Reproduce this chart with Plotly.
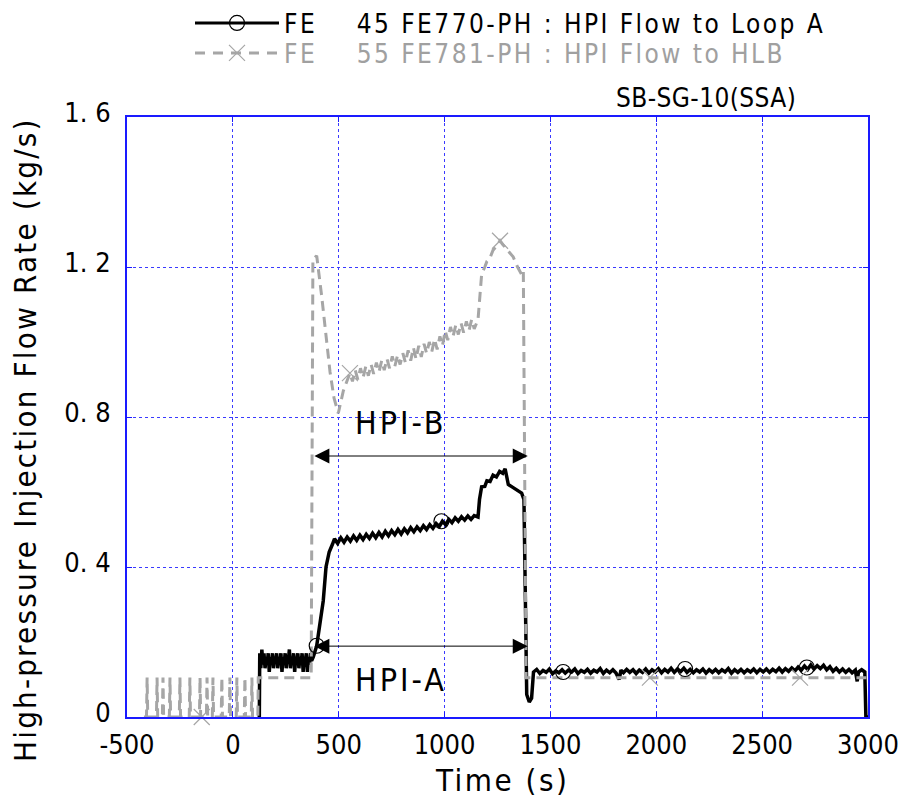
import plotly.graph_objects as go

FONT = "DejaVu Sans Condensed, DejaVu Sans, sans-serif"
BLUE = "#1a1aff"
GRID = "#3a3aff"
GRAY = "#a6a6a6"

# ---- Series A: FE770-PH HPI Flow to Loop A (black) ----
a_t_start = [125, 127, 132, 137, 142, 147, 152, 157, 162, 167, 172, 177, 182, 187, 192,
             197, 202, 207, 212, 217, 222, 227, 232, 237, 242, 247, 252, 257, 262, 267,
             272, 277, 282, 287, 292, 297, 302, 307, 312, 317, 322, 327, 332, 337, 342,
             347, 352, 357, 362, 367, 372, 380, 396, 412, 427, 440, 455, 470]
a_v_start = [0.0, 0.17, 0.13, 0.18, 0.14, 0.17, 0.13, 0.16, 0.14, 0.17, 0.12, 0.16, 0.14,
             0.17, 0.13, 0.16, 0.15, 0.17, 0.13, 0.16, 0.14, 0.17, 0.12, 0.16, 0.14, 0.17,
             0.13, 0.16, 0.15, 0.18, 0.13, 0.16, 0.14, 0.17, 0.12, 0.16, 0.15, 0.17, 0.13,
             0.16, 0.14, 0.17, 0.12, 0.16, 0.15, 0.17, 0.12, 0.16, 0.14, 0.17, 0.15, 0.16,
             0.19, 0.26, 0.31, 0.40, 0.44, 0.46]
a_t_ramp = [480, 495, 510, 525, 540, 555, 570, 585, 600, 615, 630, 645, 660, 675, 690, 705,
            720, 735, 750, 765, 780, 795, 810, 825, 840, 855, 870, 885, 900, 915, 930, 945,
            960, 975, 990, 1005, 1020, 1035, 1050, 1065, 1080, 1095, 1110, 1125, 1140, 1158]
a_v_ramp = [0.475, 0.463, 0.478, 0.466, 0.48, 0.469, 0.483, 0.471, 0.485, 0.473, 0.487,
            0.476, 0.49, 0.478, 0.492, 0.48, 0.495, 0.483, 0.497, 0.486, 0.5, 0.488, 0.502,
            0.491, 0.505, 0.494, 0.507, 0.497, 0.51, 0.5, 0.513, 0.503, 0.516, 0.508,
            0.522, 0.513, 0.527, 0.518, 0.531, 0.522, 0.534, 0.525, 0.536, 0.527, 0.537,
            0.533]
a_t_peak = [1165, 1175, 1190, 1200, 1215, 1229, 1245, 1260, 1275, 1286, 1295, 1301, 1315,
            1330, 1345, 1364, 1375, 1382, 1388, 1400, 1411]
a_v_peak = [0.58, 0.614, 0.615, 0.63, 0.628, 0.645, 0.64, 0.655, 0.65, 0.662, 0.635, 0.62,
            0.615, 0.61, 0.605, 0.597, 0.58, 0.20, 0.06, 0.04, 0.05]
a_t_flat = [1420, 1435, 1450, 1465, 1480, 1495, 1510, 1525, 1540, 1555, 1570, 1585, 1600,
            1615, 1630, 1645, 1660, 1675, 1690, 1705, 1720, 1735, 1750, 1765, 1780, 1795,
            1810, 1825, 1833, 1845, 1860, 1875, 1890, 1905, 1920, 1935, 1950, 1965, 1980,
            1995, 2010, 2025, 2040, 2055, 2070, 2085, 2100, 2115, 2130, 2145, 2160, 2175,
            2190, 2205, 2220, 2235, 2250, 2265, 2280, 2295, 2310, 2325, 2340, 2355, 2370,
            2385, 2400, 2415, 2430, 2445, 2460, 2475, 2490, 2505, 2520, 2535, 2550, 2565,
            2580, 2595, 2610, 2625, 2640, 2655, 2670, 2685, 2700, 2715, 2730, 2745, 2760,
            2775, 2790, 2805, 2820, 2835, 2850, 2865, 2880, 2895, 2910, 2925, 2940, 2949,
            2955, 2970, 2985, 2990, 3000]
a_v_flat = [0.12, 0.127, 0.116, 0.124, 0.119, 0.128, 0.115, 0.123, 0.118, 0.126, 0.117,
            0.125, 0.12, 0.128, 0.116, 0.124, 0.119, 0.127, 0.117, 0.125, 0.12, 0.129,
            0.116, 0.125, 0.118, 0.126, 0.117, 0.10, 0.125, 0.118, 0.127, 0.119, 0.126,
            0.116, 0.125, 0.119, 0.128, 0.117, 0.126, 0.12, 0.129, 0.118, 0.127, 0.12,
            0.13, 0.119, 0.128, 0.121, 0.13, 0.119, 0.127, 0.118, 0.126, 0.12, 0.128,
            0.117, 0.126, 0.119, 0.127, 0.118, 0.126, 0.12, 0.129, 0.117, 0.126, 0.119,
            0.127, 0.118, 0.126, 0.12, 0.128, 0.118, 0.127, 0.12, 0.128, 0.119, 0.127,
            0.121, 0.13, 0.12, 0.129, 0.122, 0.131, 0.123, 0.133, 0.125, 0.136, 0.127,
            0.139, 0.128, 0.137, 0.129, 0.138, 0.126, 0.134, 0.122, 0.13, 0.12, 0.128,
            0.119, 0.127, 0.118, 0.125, 0.095, 0.12, 0.126, 0.12, 0.0, 0.0]
a_mark_t = [396, 985, 1560, 2136, 2711]
a_mark_v = [0.19, 0.522, 0.12, 0.128, 0.132]

# ---- Series B: FE781-PH HPI Flow to HLB (gray dashed) ----
b_t_pre = [-420, -408, -405, -402, -361, -358, -355, -333, -330, -327, -300, -297, -294,
           -253, -250, -247, -206, -203, -200, -158, -155, -152, -125, -122, -119, -97,
           -94, -91, -55, -52, -49, -17, -14, -11, 16, 19, 22, 54, 57, 60, 87, 90, 93,
           118, 120, 200, 300, 370]
b_v_pre = [0.0, 0.0, 0.105, 0.0, 0.0, 0.105, 0.0, 0.0, 0.105, 0.0, 0.0, 0.105, 0.0, 0.0,
           0.105, 0.0, 0.0, 0.105, 0.0, 0.0, 0.105, 0.0, 0.0, 0.105, 0.0, 0.0, 0.105, 0.0,
           0.0, 0.105, 0.0, 0.0, 0.105, 0.0, 0.0, 0.105, 0.0, 0.0, 0.105, 0.0, 0.0, 0.105,
           0.0, 0.0, 0.105, 0.105, 0.105, 0.105]
b_t_main = [378, 396, 420, 443, 459, 478, 498, 510, 522,
            553, 565, 578, 590, 603, 615, 628, 640, 653, 665, 678, 690, 703, 715, 728, 740,
            753, 765, 778, 790, 803, 815, 828, 840, 853, 865, 878, 890, 903, 915, 928, 940,
            953, 965, 978, 990, 1003, 1015, 1028, 1040, 1053, 1065, 1078, 1090, 1103, 1115,
            1128, 1140, 1158,
            1165, 1175, 1190, 1200, 1215, 1229, 1245, 1262, 1275, 1290, 1305, 1324, 1345,
            1364, 1372, 1378]
b_v_main = [1.22, 1.23, 1.12, 1.0, 0.92, 0.85, 0.81, 0.84, 0.87,
            0.917, 0.895, 0.925, 0.9, 0.93, 0.905, 0.935, 0.91, 0.94, 0.915, 0.945, 0.92,
            0.95, 0.925, 0.955, 0.93, 0.962, 0.935, 0.965, 0.94, 0.97, 0.945, 0.978, 0.95,
            0.985, 0.955, 0.99, 0.96, 0.995, 0.97, 1.0, 0.975, 1.008, 0.98, 1.015, 0.99,
            1.03, 1.005, 1.04, 1.015, 1.045, 1.02, 1.05, 1.025, 1.055, 1.03, 1.06, 1.035,
            1.06,
            1.12, 1.18, 1.2, 1.215, 1.225, 1.245, 1.255, 1.27, 1.26, 1.25, 1.24, 1.227, 1.2,
            1.18, 1.19, 0.6]
b_t_post = [1385, 1450, 1600, 1800, 1970, 2200, 2400, 2679, 2850, 3000]
b_v_post = [0.105, 0.105, 0.105, 0.105, 0.105, 0.105, 0.105, 0.105, 0.105, 0.105]
b_mark_t = [-147, 553, 1262, 1970, 2679]
b_mark_v = [0.0, 0.917, 1.27, 0.105, 0.105]

x_ticks = [-500, 0, 500, 1000, 1500, 2000, 2500, 3000]
y_ticks = [0, 0.4, 0.8, 1.2, 1.6]
y_ticktext = ["0", "0. 4", "0. 8", "1. 2", "1. 6"]

a_t = a_t_start + a_t_ramp + a_t_peak + a_t_flat
a_v = a_v_start + a_v_ramp + a_v_peak + a_v_flat
b_t = b_t_pre + b_t_main + b_t_post
b_v = b_v_pre + b_v_main + b_v_post

name_a = '<span style="letter-spacing:2.45px">FE\u00a0\u00a0\u00a0 45 FE770-PH : HPI Flow to Loop A</span>'
name_b = '<span style="letter-spacing:2.45px;color:#a0a0a0">FE\u00a0\u00a0\u00a0 55 FE781-PH : HPI Flow to HLB</span>'

fig = go.Figure()
fig.add_trace(go.Scatter(x=a_t, y=a_v, mode="lines", line=dict(color="black", width=3.5),
                         showlegend=False, hoverinfo="skip"))
fig.add_trace(go.Scatter(x=b_t, y=b_v, mode="lines",
                         line=dict(color=GRAY, width=3, dash="10px,6px"),
                         showlegend=False, hoverinfo="skip"))
fig.add_trace(go.Scatter(x=a_mark_t, y=a_mark_v, mode="markers", cliponaxis=False,
                         marker=dict(symbol="circle-open", size=15, color="black",
                                     line=dict(width=1.2, color="black")),
                         showlegend=False, hoverinfo="skip"))
fig.add_trace(go.Scatter(x=b_mark_t, y=b_mark_v, mode="markers", cliponaxis=False,
                         marker=dict(symbol="x-thin-open", size=16, color=GRAY,
                                     line=dict(width=1.2, color=GRAY)),
                         showlegend=False, hoverinfo="skip"))
# legend entries (one legend per row so row spacing matches)
fig.add_trace(go.Scatter(x=[None], y=[None], mode="lines+markers", name=name_a,
                         legend="legend",
                         line=dict(color="black", width=3),
                         marker=dict(symbol="circle-open", size=15, color="black",
                                     line=dict(width=1.2, color="black"))))
fig.add_trace(go.Scatter(x=[None], y=[None], mode="lines+markers", name=name_b,
                         legend="legend2",
                         line=dict(color=GRAY, width=3, dash="10px,8px"),
                         marker=dict(symbol="x-thin-open", size=16, color=GRAY,
                                     line=dict(width=1.2, color=GRAY))))

hx = (401 - 127) / 741 * 3500 - 500
annotations = [
    dict(x=1393, y=0.696, ax=378, ay=0.696, xref="x", yref="y", axref="x", ayref="y",
         text="", showarrow=True, arrowhead=2, arrowside="end+start", arrowsize=3,
         arrowwidth=1, arrowcolor="black"),
    dict(x=1393, y=0.189, ax=378, ay=0.189, xref="x", yref="y", axref="x", ayref="y",
         text="", showarrow=True, arrowhead=2, arrowside="end+start", arrowsize=3,
         arrowwidth=1, arrowcolor="black"),
    dict(x=hx, y=(717 - 423) / 375, xref="x", yref="y",
         text='<span style="letter-spacing:3px">HPI-B</span>', showarrow=False,
         font=dict(family=FONT, size=32, color="black")),
    dict(x=hx, y=(717 - 680) / 375, xref="x", yref="y",
         text='<span style="letter-spacing:3px">HPI-A</span>', showarrow=False,
         font=dict(family=FONT, size=32, color="black")),
    dict(x=(798 - 127) / 741, y=(717 - 98) / 600, xref="paper", yref="paper",
         xanchor="right", yanchor="middle",
         text='<span style="letter-spacing:0.4px">SB-SG-10(SSA)</span>', showarrow=False,
         font=dict(family=FONT, size=26, color="black")),
    dict(x=(502 - 127) / 741, y=(717 - 780) / 600, xref="paper", yref="paper",
         xanchor="center", yanchor="middle",
         text='<span style="letter-spacing:2.5px">Time (s)</span>', showarrow=False,
         font=dict(family=FONT, size=31, color="black")),
    dict(x=(25 - 127) / 741, y=(717 - 440) / 600, xref="paper", yref="paper",
         xanchor="center", yanchor="middle", textangle=-90,
         text='<span style="letter-spacing:2.2px">High-pressure Injection Flow Rate (kg/s)</span>',
         showarrow=False, font=dict(family=FONT, size=31, color="black")),
]

leg_common = dict(xref="container", yref="container", xanchor="left", yanchor="middle",
                  bgcolor="rgba(0,0,0,0)", itemwidth=84, tracegroupgap=0,
                  font=dict(family=FONT, size=26, color="black"))

fig.update_layout(
    width=905, height=800,
    margin=dict(l=127, r=37, t=117, b=83, autoexpand=False),
    paper_bgcolor="white", plot_bgcolor="white",
    font=dict(family=FONT, size=27, color="black"),
    showlegend=True,
    legend=dict(x=190 / 905, y=1 - 23 / 800, **leg_common),
    legend2=dict(x=190 / 905, y=1 - 53 / 800, **leg_common),
    annotations=annotations,
    xaxis=dict(range=[-500, 3000], tickvals=x_ticks, ticktext=[str(v) for v in x_ticks],
               showline=True, linecolor=BLUE, linewidth=2, mirror="ticks",
               showgrid=True, gridcolor=GRID, gridwidth=1, griddash="dot",
               ticks="inside", ticklen=5, tickcolor=BLUE, zeroline=False,
               ticklabelstandoff=3,
               tickfont=dict(family=FONT, size=27, color="black")),
    yaxis=dict(range=[0, 1.6], tickvals=y_ticks, ticktext=y_ticktext,
               showline=True, linecolor=BLUE, linewidth=2, mirror="ticks",
               showgrid=True, gridcolor=GRID, gridwidth=1, griddash="dot",
               ticks="inside", ticklen=5, tickcolor=BLUE, zeroline=False,
               ticklabelstandoff=9, ticklabelshift=-4,
               tickfont=dict(family=FONT, size=27, color="black")),
)

fig.write_html("out.html")
